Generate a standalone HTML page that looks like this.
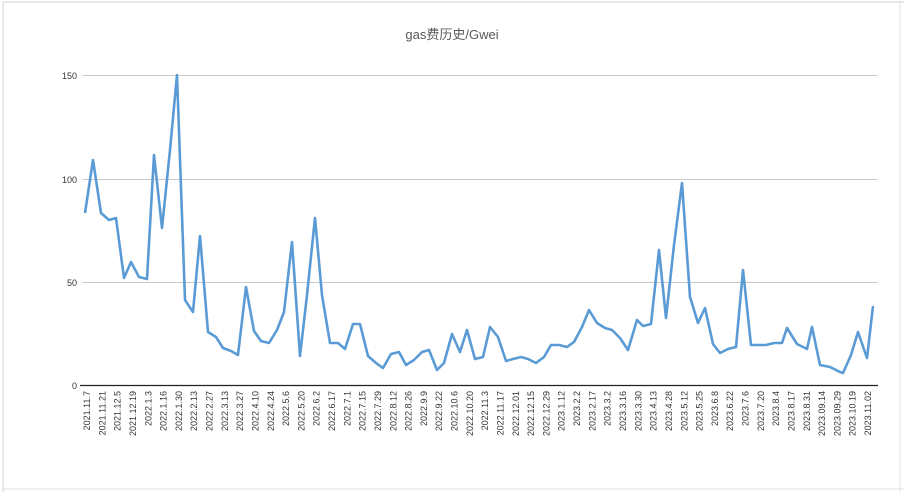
<!DOCTYPE html>
<html><head><meta charset="utf-8"><style>
body{margin:0;background:#fff;}
svg{display:block;font-family:"Liberation Sans","Noto Sans CJK SC",sans-serif;}
</style></head><body>
<svg width="904" height="492" viewBox="0 0 904 492">
<rect x="0" y="0" width="904" height="492" fill="#fff"/>
<line x1="3" y1="2" x2="3" y2="492" stroke="#d0d0d0"/>
<line x1="3" y1="2" x2="904" y2="2" stroke="#d0d0d0"/>
<line x1="900" y1="2" x2="900" y2="492" stroke="#e0e0e0"/>
<line x1="3" y1="489" x2="904" y2="489" stroke="#e0e0e0"/>
<text x="452" y="39" text-anchor="middle" font-size="13" fill="#595959">gas费历史/Gwei</text>
<g stroke="#c8c8c8" stroke-width="1">
<line x1="82" y1="75.5" x2="878" y2="75.5"/>
<line x1="82" y1="179.5" x2="878" y2="179.5"/>
<line x1="82" y1="282.5" x2="878" y2="282.5"/>
</g>
<line x1="80" y1="385.5" x2="878" y2="385.5" stroke="#222" stroke-width="1.3"/>
<g font-size="9" fill="#333" text-anchor="end">
<text x="77" y="79">150</text><text x="77" y="183">100</text><text x="77" y="286">50</text><text x="77" y="389">0</text>
</g>
<polyline fill="none" stroke="#5b9bd5" stroke-width="2.6" stroke-linejoin="round" points="85,213 93,160 101,213 109,220 116,218 124,278 131,262 139,277 147,279 154,155 162,228 170,150 177,75 185,300 193,312 200,236 208,332 216,337 223,348 231,351 238,355 246,287 254,331 261,341 269,343 277,330 284,312 292,242 300,356 307,295 315,218 322,295 330,343 338,343 345,349 353,324 360,324 368,356 376,363 383,368 391,354 399,352 406,365 414,360 422,352 429,350 437,370 444,363 452,334 460,352 467,330 475,359 483,357 490,327 498,337 506,361 513,359 521,357 528,359 536,363 544,357 551,345 559,345 567,347 574,342 582,327 589,310 597,323 605,328 612,330 620,338 628,350 637,320 643,326 651,324 659,250 666,318 674,245 682,183 690,297 698,323 705,308 713,344 720,353 728,349 736,347 743,270 751,345 759,345 766,345 774,343 782,343 787,328 797,344 807,349 812,327 820,365 830,367 840,372 843,373 851,355 858,332 867,358 873,306"/>
<g font-size="9" fill="#333" text-anchor="end">
<text transform="translate(90.0,391) rotate(-90)">2021.11.7</text>
<text transform="translate(105.3,391) rotate(-90)">2021.11.21</text>
<text transform="translate(120.6,391) rotate(-90)">2021.12.5</text>
<text transform="translate(135.9,391) rotate(-90)">2021.12.19</text>
<text transform="translate(151.3,391) rotate(-90)">2022.1.3</text>
<text transform="translate(166.6,391) rotate(-90)">2022.1.16</text>
<text transform="translate(181.9,391) rotate(-90)">2022.1.30</text>
<text transform="translate(197.2,391) rotate(-90)">2022.2.13</text>
<text transform="translate(212.5,391) rotate(-90)">2022.2.27</text>
<text transform="translate(227.8,391) rotate(-90)">2022.3.13</text>
<text transform="translate(243.1,391) rotate(-90)">2022.3.27</text>
<text transform="translate(258.5,391) rotate(-90)">2022.4.10</text>
<text transform="translate(273.8,391) rotate(-90)">2022.4.24</text>
<text transform="translate(289.1,391) rotate(-90)">2022.5.6</text>
<text transform="translate(304.4,391) rotate(-90)">2022.5.20</text>
<text transform="translate(319.7,391) rotate(-90)">2022.6.2</text>
<text transform="translate(335.0,391) rotate(-90)">2022.6.17</text>
<text transform="translate(350.3,391) rotate(-90)">2022.7.1</text>
<text transform="translate(365.7,391) rotate(-90)">2022.7.15</text>
<text transform="translate(381.0,391) rotate(-90)">2022.7.29</text>
<text transform="translate(396.3,391) rotate(-90)">2022.8.12</text>
<text transform="translate(411.6,391) rotate(-90)">2022.8.26</text>
<text transform="translate(426.9,391) rotate(-90)">2022.9.9</text>
<text transform="translate(442.2,391) rotate(-90)">2022.9.22</text>
<text transform="translate(457.5,391) rotate(-90)">2022.10.6</text>
<text transform="translate(472.9,391) rotate(-90)">2022.10.20</text>
<text transform="translate(488.2,391) rotate(-90)">2022.11.3</text>
<text transform="translate(503.5,391) rotate(-90)">2022.11.17</text>
<text transform="translate(518.8,391) rotate(-90)">2022.12.01</text>
<text transform="translate(534.1,391) rotate(-90)">2022.12.15</text>
<text transform="translate(549.4,391) rotate(-90)">2022.12.29</text>
<text transform="translate(564.7,391) rotate(-90)">2023.1.12</text>
<text transform="translate(580.1,391) rotate(-90)">2023.2.2</text>
<text transform="translate(595.4,391) rotate(-90)">2023.2.17</text>
<text transform="translate(610.7,391) rotate(-90)">2023.3.2</text>
<text transform="translate(626.0,391) rotate(-90)">2023.3.16</text>
<text transform="translate(641.3,391) rotate(-90)">2023.3.30</text>
<text transform="translate(656.6,391) rotate(-90)">2023.4.13</text>
<text transform="translate(671.9,391) rotate(-90)">2023.4.28</text>
<text transform="translate(687.3,391) rotate(-90)">2023.5.12</text>
<text transform="translate(702.6,391) rotate(-90)">2023.5.25</text>
<text transform="translate(717.9,391) rotate(-90)">2023.6.8</text>
<text transform="translate(733.2,391) rotate(-90)">2023.6.22</text>
<text transform="translate(748.5,391) rotate(-90)">2023.7.6</text>
<text transform="translate(763.8,391) rotate(-90)">2023.7.20</text>
<text transform="translate(779.1,391) rotate(-90)">2023.8.4</text>
<text transform="translate(794.5,391) rotate(-90)">2023.8.17</text>
<text transform="translate(809.8,391) rotate(-90)">2023.8.31</text>
<text transform="translate(825.1,391) rotate(-90)">2023.09.14</text>
<text transform="translate(840.4,391) rotate(-90)">2023.09.29</text>
<text transform="translate(855.7,391) rotate(-90)">2023.10.19</text>
<text transform="translate(871.0,391) rotate(-90)">2023.11.02</text>
</g>
</svg>
</body></html>
